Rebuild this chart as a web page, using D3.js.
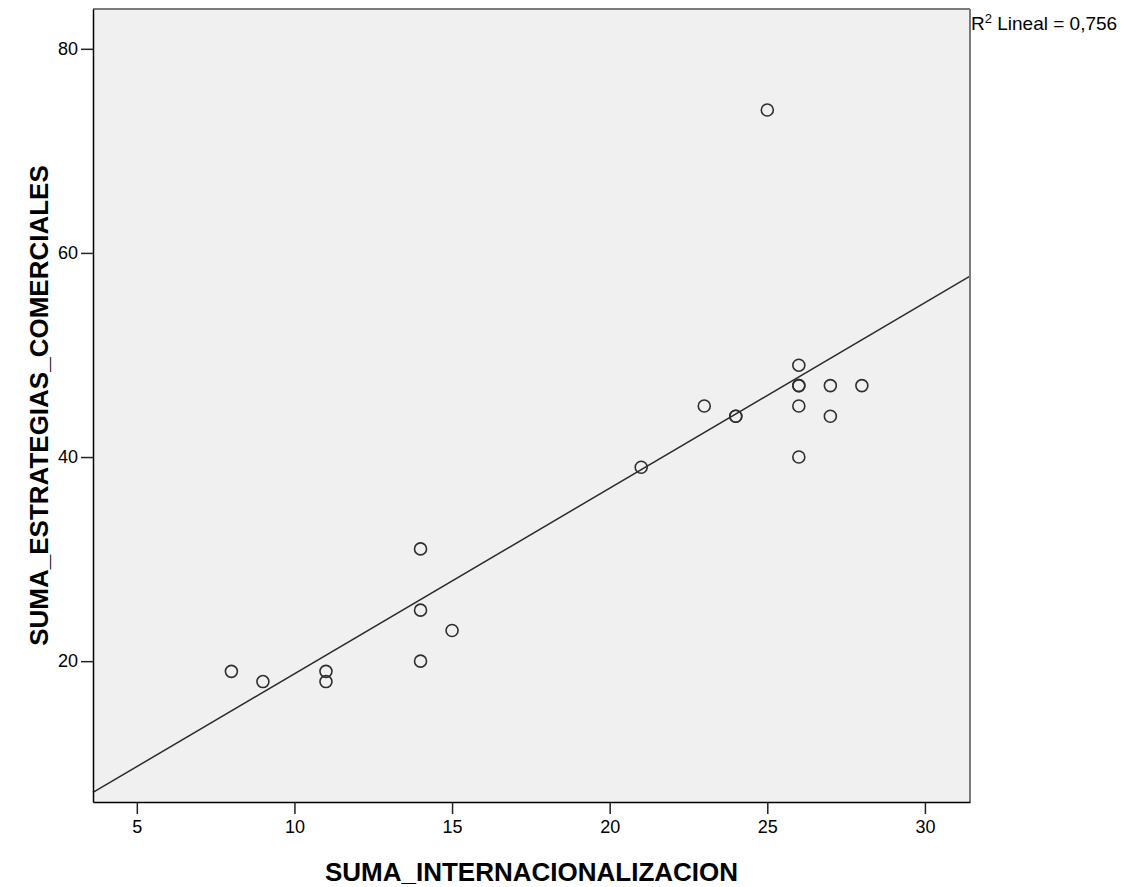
<!DOCTYPE html>
<html>
<head>
<meta charset="utf-8">
<script src="https://cdn.jsdelivr.net/npm/d3@7"></script>
<style>
  body { margin: 0; background: #fff; }
  text { font-family: "Liberation Sans", Arial, sans-serif; fill: #000; }
</style>
</head>
<body>
<svg width="1131" height="887"></svg>
<script>
// datos
var internacionalizacion = [8, 9, 11, 11, 14, 14, 14, 15, 21, 23, 24, 24, 25, 26, 26, 26, 26, 26, 27, 27, 28];
var estrategias          = [19, 18, 19, 18, 31, 25, 20, 23, 39, 45, 44, 44, 74, 49, 47, 47, 45, 40, 47, 44, 47];
var xTicks = [5, 10, 15, 20, 25, 30];
var yTicks = [20, 40, 60, 80];

var svg = d3.select("svg");

// area del grafico
var plotLeft = 93, plotRight = 970, plotTop = 9, plotBottom = 802;

var x = d3.scaleLinear().domain([3.61, 31.43]).range([plotLeft, plotRight]);
var y = d3.scaleLinear().domain([6.2, 83.9]).range([plotBottom, plotTop]);

// fondo gris
svg.append("rect")
    .attr("x", plotLeft).attr("y", plotTop)
    .attr("width", plotRight - plotLeft).attr("height", plotBottom - plotTop)
    .attr("fill", "#f0f0f0");

// recta de regresion (minimos cuadrados)
var mx = d3.mean(internacionalizacion), my = d3.mean(estrategias);
var sxy = 0, sxx = 0, syy = 0;
internacionalizacion.forEach(function(v, i) {
    sxy += (v - mx) * (estrategias[i] - my);
    sxx += (v - mx) * (v - mx);
    syy += (estrategias[i] - my) * (estrategias[i] - my);
});
var slope = sxy / sxx;
var intercept = my - slope * mx;
var r2 = (sxy * sxy) / (sxx * syy);

var x0 = x.domain()[0], x1 = x.domain()[1];
svg.append("line")
    .attr("x1", x(x0)).attr("y1", y(intercept + slope * x0))
    .attr("x2", x(x1)).attr("y2", y(intercept + slope * x1))
    .attr("stroke", "#2b2b2b")
    .attr("stroke-width", 1.5);

// puntos
svg.append("g")
    .selectAll("circle")
    .data(internacionalizacion)
    .enter().append("circle")
    .attr("cx", function(d) { return x(d); })
    .attr("cy", function(d, i) { return y(estrategias[i]); })
    .attr("r", 6)
    .attr("fill", "none")
    .attr("stroke", "#2e2e2e")
    .attr("stroke-width", 1.6);

// marco: arriba y derecha gris
svg.append("line").attr("x1", plotLeft).attr("y1", plotTop).attr("x2", plotRight).attr("y2", plotTop)
    .attr("stroke", "#7a7a7a").attr("stroke-width", 2);
svg.append("line").attr("x1", plotRight).attr("y1", plotTop).attr("x2", plotRight).attr("y2", plotBottom)
    .attr("stroke", "#7a7a7a").attr("stroke-width", 2);

// ejes
var xAxis = svg.append("g")
    .attr("transform", "translate(0," + plotBottom + ")")
    .call(d3.axisBottom(x).tickValues(xTicks).tickSize(12).tickSizeOuter(0).tickPadding(6));
var yAxis = svg.append("g")
    .attr("transform", "translate(" + plotLeft + ",0)")
    .call(d3.axisLeft(y).tickValues(yTicks).tickSize(12).tickSizeOuter(0).tickPadding(3));

[xAxis, yAxis].forEach(function(a) {
    a.select(".domain").attr("stroke", "#000").attr("stroke-width", 1.5);
    a.selectAll(".tick line").attr("stroke", "#222").attr("stroke-width", 1.5);
    a.selectAll("text")
        .attr("font-size", 18)
        .attr("font-family", "Liberation Sans, Arial, sans-serif")
        .attr("fill", "#111");
});

// titulos
svg.append("text")
    .attr("x", (plotLeft + plotRight) / 2)
    .attr("y", 881)
    .attr("text-anchor", "middle")
    .attr("font-size", 26)
    .attr("font-weight", "bold")
    .text("SUMA_INTERNACIONALIZACION");

svg.append("text")
    .attr("transform", "translate(48," + (plotTop + plotBottom) / 2 + ") rotate(-90)")
    .attr("text-anchor", "middle")
    .attr("font-size", 26)
    .attr("font-weight", "bold")
    .text("SUMA_ESTRATEGIAS_COMERCIALES");

// R2
var r2Label = svg.append("text")
    .attr("x", 971)
    .attr("y", 30)
    .attr("font-size", 19);
r2Label.append("tspan").text("R");
r2Label.append("tspan").attr("font-size", 13).attr("dy", -7).text("2");
r2Label.append("tspan").attr("dy", 7).text(" Lineal = " + d3.format(".3f")(r2).replace(".", ","));
</script>
</body>
</html>
